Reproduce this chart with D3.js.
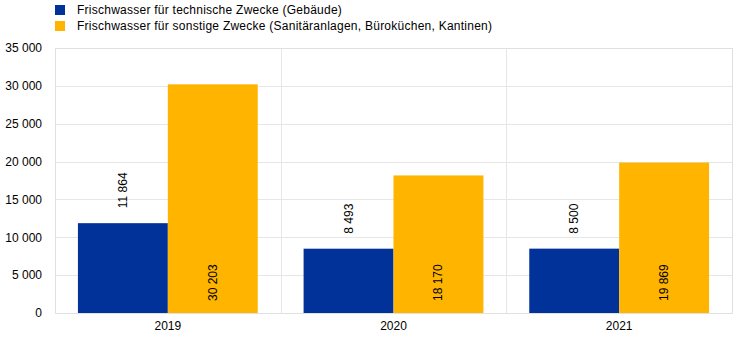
<!DOCTYPE html>
<html>
<head>
<meta charset="utf-8">
<script src="https://cdn.jsdelivr.net/npm/d3@7"></script>
<style>
  body { margin: 0; background: #fff; }
  text { font-family: "Liberation Sans", Arial, sans-serif; }
</style>
</head>
<body>
<div id="chart"></div>
<script>
const years = ['2019', '2020', '2021'];
const seriesNames = [
  'Frischwasser für technische Zwecke (Gebäude)',
  'Frischwasser für sonstige Zwecke (Sanitäranlagen, Büroküchen, Kantinen)'
];
const technical = [11864, 8493, 8500];
const other = [30203, 18170, 19869];
const yTicks = [0, 5000, 10000, 15000, 20000, 25000, 30000, 35000];
const colors = ['#003299', '#ffb400'];

const width = 744, height = 341;
const margin = { top: 48, right: 12, bottom: 28, left: 55 };
const innerW = width - margin.left - margin.right;
const innerH = height - margin.top - margin.bottom;

const fmt = v => d3.format(',')(v).replace(/,/g, ' ');

const svg = d3.select('#chart').append('svg')
  .attr('width', width)
  .attr('height', height);

// legend
const legend = svg.append('g').attr('class', 'legend');
seriesNames.forEach((name, i) => {
  legend.append('rect')
    .attr('x', 55).attr('y', 5 + i * 16)
    .attr('width', 10).attr('height', 10)
    .attr('fill', colors[i]);
  legend.append('text')
    .attr('x', 77).attr('y', 14 + i * 16)
    .attr('font-size', 12)
    .attr('letter-spacing', 0.25)
    .attr('fill', '#000')
    .text(name);
});

const g = svg.append('g').attr('transform', `translate(${margin.left},${margin.top})`);

const x = d3.scaleBand().domain(years).range([0, innerW]).paddingInner(0).paddingOuter(0);
const x1 = d3.scaleBand().domain([0, 1]).range([0, x.bandwidth()]).paddingOuter(0.255).paddingInner(0);
const y = d3.scaleLinear().domain([0, 35000]).range([innerH, 0]);

// horizontal grid
g.append('g')
  .selectAll('line')
  .data(yTicks)
  .enter().append('line')
  .attr('x1', 0).attr('x2', innerW)
  .attr('y1', d => Math.round(y(d)) + 0.5).attr('y2', d => Math.round(y(d)) + 0.5)
  .attr('stroke', '#e6e6e6');

// vertical separators
g.append('g')
  .selectAll('line')
  .data(years.slice(1))
  .enter().append('line')
  .attr('x1', d => Math.round(x(d)) + 0.5).attr('x2', d => Math.round(x(d)) + 0.5)
  .attr('y1', 0).attr('y2', innerH)
  .attr('stroke', '#e6e6e6');

// frame
g.append('rect')
  .attr('x', 0.5).attr('y', 0.5)
  .attr('width', innerW).attr('height', innerH)
  .attr('fill', 'none')
  .attr('stroke', '#e0e0e0');

// y axis
const yAxis = g.append('g')
  .call(d3.axisLeft(y).tickValues(yTicks).tickFormat(fmt).tickSize(0).tickPadding(13));
yAxis.select('.domain').remove();
yAxis.selectAll('text').attr('font-size', 12).attr('fill', '#000')
  .style('font-family', '"Liberation Sans", Arial, sans-serif');

// x axis
const xAxis = g.append('g')
  .attr('transform', `translate(0,${innerH})`)
  .call(d3.axisBottom(x).tickSize(0).tickPadding(8));
xAxis.select('.domain').remove();
xAxis.selectAll('text').attr('font-size', 12).attr('fill', '#000')
  .style('font-family', '"Liberation Sans", Arial, sans-serif');

// bars
const rows = years.map((yr, i) => ({ year: yr, values: [technical[i], other[i]] }));
const groups = g.append('g').selectAll('g')
  .data(rows)
  .enter().append('g')
  .attr('transform', d => `translate(${x(d.year)},0)`);

groups.selectAll('rect')
  .data(d => d.values.map((v, k) => ({ k, v })))
  .enter().append('rect')
  .attr('x', d => x1(d.k))
  .attr('width', x1.bandwidth())
  .attr('y', d => y(d.v))
  .attr('height', d => innerH - y(d.v))
  .attr('fill', d => colors[d.k]);

// labels: blue above bar, orange inside at bottom
groups.selectAll('text.lbl')
  .data(d => d.values.map((v, k) => ({ k, v })))
  .enter().append('text')
  .attr('class', 'lbl')
  .attr('transform', d => {
    const cx = x1(d.k) + x1.bandwidth() / 2 + 4;
    const ty = d.k === 0 ? y(d.v) - 15 : innerH - 12;
    return `translate(${cx},${ty}) rotate(-90)`;
  })
  .attr('text-anchor', 'start')
  .attr('font-size', 12)
  .attr('fill', '#000')
  .text(d => fmt(d.v));
</script>
</body>
</html>
